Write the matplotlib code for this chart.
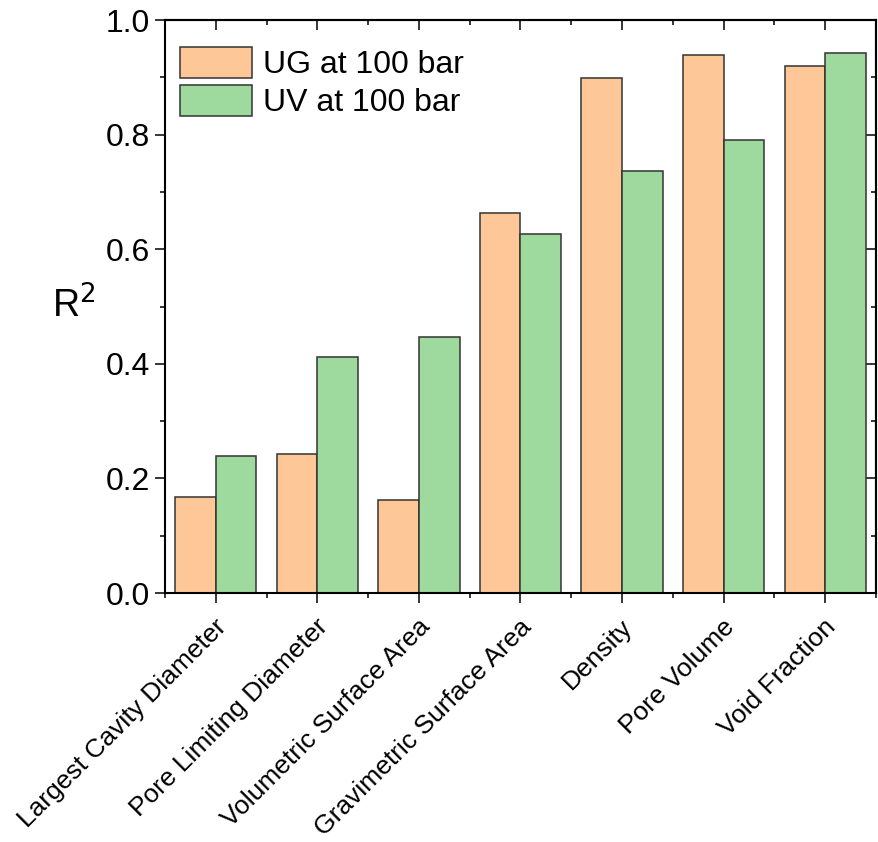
import numpy as np
import matplotlib
matplotlib.use('Agg')
import matplotlib.pyplot as plt
import matplotlib.transforms as mtransforms
from matplotlib.ticker import MultipleLocator

plt.rcParams['font.family'] = ['Liberation Sans', 'DejaVu Sans']

# data
categories = ['Largest Cavity Diameter', 'Pore Limiting Diameter',
              'Volumetric Surface Area', 'Gravimetric Surface Area',
              'Density', 'Pore Volume', 'Void Fraction']
ug_100 = [0.168, 0.243, 0.163, 0.663, 0.899, 0.939, 0.920]
uv_100 = [0.239, 0.412, 0.447, 0.626, 0.736, 0.790, 0.943]
series_labels = ['UG at 100 bar', 'UV at 100 bar']

fig = plt.figure(figsize=(8.79, 8.42), dpi=100)
ax = fig.add_axes([0.1877, 0.2957, 0.8089, 0.6805])

x = np.arange(len(categories))
w = 0.4
ax.bar(x - w / 2, ug_100, w, color='#fdc797', edgecolor='#333333',
       linewidth=1.1, label=series_labels[0])
ax.bar(x + w / 2, uv_100, w, color='#9ed99d', edgecolor='#333333',
       linewidth=1.1, label=series_labels[1])

ax.set_xlim(-0.5, len(categories) - 0.5)
ax.set_ylim(0, 1.0)
ax.set_xticks(x)
ax.set_xticklabels(categories, rotation=45, ha='right', va='center',
                   rotation_mode='anchor')
ax.xaxis.set_minor_locator(MultipleLocator(1, offset=0.5))
ax.yaxis.set_major_locator(MultipleLocator(0.2))
ax.yaxis.set_minor_locator(MultipleLocator(0.1))
ax.yaxis.set_major_formatter(matplotlib.ticker.FormatStrFormatter('%.1f'))

ax.tick_params(which='major', direction='out', length=7.5, width=1.1,
               labelsize=23)
ax.tick_params(axis='x', which='major', labelsize=19, pad=14)
ax.tick_params(which='minor', direction='out', length=3.8, width=1.1)

# shift x tick labels a little to the right
offset = mtransforms.ScaledTranslation(7 / 100, 0, fig.dpi_scale_trans)
for lbl in ax.get_xticklabels():
    lbl.set_transform(lbl.get_transform() + offset)

# inward ticks on the top and right
top = ax.secondary_xaxis('top')
top.set_xticks(x)
top.xaxis.set_minor_locator(MultipleLocator(1, offset=0.5))
top.tick_params(which='major', direction='in', length=7.5, width=1.1,
                labeltop=False)
top.tick_params(which='minor', direction='in', length=3.8, width=1.1)
right = ax.secondary_yaxis('right')
right.yaxis.set_major_locator(MultipleLocator(0.2))
right.yaxis.set_minor_locator(MultipleLocator(0.1))
right.tick_params(which='major', direction='in', length=7.5, width=1.1,
                  labelright=False)
right.tick_params(which='minor', direction='in', length=3.8, width=1.1)

for s in list(ax.spines.values()) + [top.spines['top'], right.spines['right']]:
    s.set_linewidth(1.5)

ax.set_ylabel('R$^2$', rotation=0, fontsize=27, va='center', ha='center')
ax.yaxis.set_label_coords(-0.129, 0.5)

ax.legend(loc='upper left', bbox_to_anchor=(15 / 711, 1 - 27 / 573),
          frameon=False, fontsize=23, handlelength=2.25, handleheight=1.1,
          handletextpad=0.35, labelspacing=0.15, borderpad=0,
          borderaxespad=0)

fig.savefig('out.png', dpi=100)
